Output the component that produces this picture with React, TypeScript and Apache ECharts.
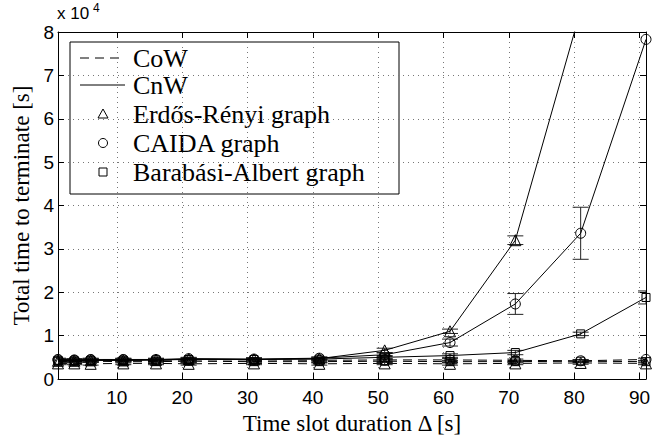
import React, { useEffect, useRef } from "react";
import * as echarts from "echarts";

const xValues = [1, 3.5, 6, 11, 16, 21, 31, 41, 51, 61, 71, 81, 91];
const xTickValues = [10, 20, 30, 40, 50, 60, 70, 80, 90];

// CoW (dashed) values, x 10^4 s
const erCow = [0.36, 0.36, 0.35, 0.36, 0.36, 0.35, 0.36, 0.35, 0.36, 0.35, 0.36, 0.37, 0.36];
const caidaCow = [0.44, 0.43, 0.44, 0.44, 0.43, 0.44, 0.44, 0.43, 0.44, 0.44, 0.43, 0.42, 0.45];
const baCow = [0.40, 0.40, 0.41, 0.40, 0.40, 0.41, 0.40, 0.40, 0.41, 0.40, 0.40, 0.41, 0.40];

// CnW (solid) values, x 10^4 s
const erCnw = [0.42, 0.42, 0.43, 0.43, 0.44, 0.46, 0.45, 0.47, 0.66, 1.10, 3.20, 8.5, 14.5];
const caidaCnw = [0.45, 0.44, 0.45, 0.45, 0.45, 0.47, 0.46, 0.48, 0.56, 0.84, 1.73, 3.36, 7.83];
const baCnw = [0.43, 0.42, 0.43, 0.43, 0.44, 0.45, 0.45, 0.46, 0.50, 0.54, 0.61, 1.04, 1.88];

// error half-widths
const erCnwErr = [0.03, 0.03, 0.03, 0.03, 0.03, 0.03, 0.03, 0.03, 0.05, 0.05, 0.1, 0, 0];
const caidaCnwErr = [0.03, 0.03, 0.03, 0.03, 0.03, 0.03, 0.03, 0.03, 0.04, 0.08, 0.24, 0.6, 0];
const baCnwErr = [0.03, 0.03, 0.03, 0.03, 0.03, 0.03, 0.03, 0.03, 0.04, 0.04, 0.05, 0.04, 0.15];
const cowErr = [0.03, 0.03, 0.03, 0.03, 0.03, 0.03, 0.03, 0.03, 0.03, 0.03, 0.03, 0.03, 0.03];

const legendNames = ["CoW", "CnW", "Erdős-Rényi graph", "CAIDA graph", "Barabási-Albert graph"];

const SERIF = "Liberation Serif";
const SANS = "Liberation Sans";

function pairs(vals: number[]) {
  return xValues.map((x, i) => [x, vals[i]]);
}
function errData(vals: number[], errs: number[]) {
  return xValues
    .map((x, i) => [x, vals[i] - errs[i], vals[i] + errs[i]])
    .filter((d, i) => errs[i] > 0);
}

function lineSeries(name: string, vals: number[], symbol: string, size: number, dashed: boolean) {
  return {
    type: "line",
    name,
    data: pairs(vals),
    symbol,
    symbolSize: size,
    showAllSymbol: true,
    clip: true,
    lineStyle: { color: "#000", width: 1, type: dashed ? [9, 6] : "solid" },
    itemStyle: { color: "rgba(0,0,0,0)", borderColor: "#000", borderWidth: 1 },
    z: 3,
  };
}

function errSeries(vals: number[], errs: number[]) {
  return {
    type: "custom",
    data: errData(vals, errs),
    clip: true,
    z: 2,
    renderItem: (params: any, api: any) => {
      const x = api.value(0);
      const lo = api.coord([x, api.value(1)]);
      const hi = api.coord([x, api.value(2)]);
      const w = 8;
      const style = { stroke: "#222", lineWidth: 1 };
      return {
        type: "group",
        children: [
          { type: "line", shape: { x1: lo[0], y1: lo[1], x2: hi[0], y2: hi[1] }, style },
          { type: "line", shape: { x1: lo[0] - w, y1: lo[1], x2: lo[0] + w, y2: lo[1] }, style },
          { type: "line", shape: { x1: hi[0] - w, y1: hi[1], x2: hi[0] + w, y2: hi[1] }, style },
        ],
      };
    },
  };
}

export default function App() {
  const ref = useRef<HTMLDivElement>(null);
  useEffect(() => {
    if (!ref.current) return;
    const chart = echarts.init(ref.current, null, { renderer: "svg" });
    const gridLine = { show: true, lineStyle: { color: "#777", width: 1, type: [1, 4] } };
    const tick = { show: true, inside: true, length: 6, lineStyle: { color: "#000" } };
    const axisLine = { show: true, onZero: false, lineStyle: { color: "#000", width: 1 } };

    const legendRows = [58, 85, 114, 143, 172];
    const lx = 70, ly = 42, lw = 329, lh = 152;
    const legendChildren: any[] = [
      { type: "rect", shape: { x: lx, y: ly, width: lw, height: lh }, style: { fill: "#fff", stroke: "#000", lineWidth: 1 } },
      { type: "line", shape: { x1: 80, y1: legendRows[0], x2: 125, y2: legendRows[0] }, style: { stroke: "#000", lineWidth: 1, lineDash: [9, 6] } },
      { type: "line", shape: { x1: 80, y1: legendRows[1], x2: 125, y2: legendRows[1] }, style: { stroke: "#000", lineWidth: 1 } },
      { type: "polygon", shape: { points: [[103, legendRows[2] - 5], [98, legendRows[2] + 4], [108, legendRows[2] + 4]] }, style: { fill: "none", stroke: "#000", lineWidth: 1 } },
      { type: "circle", shape: { cx: 103, cy: legendRows[3], r: 4.5 }, style: { fill: "none", stroke: "#000", lineWidth: 1 } },
      { type: "rect", shape: { x: 99, y: legendRows[4] - 4, width: 8, height: 8 }, style: { fill: "none", stroke: "#000", lineWidth: 1 } },
    ];
    legendNames.forEach((n, i) => {
      legendChildren.push({
        type: "text",
        x: 133,
        y: legendRows[i],
        style: {
          text: n,
          fontFamily: SERIF,
          fontSize: 26,
          fill: "#000",
          verticalAlign: "middle",
          align: "left",
        },
      });
    });

    chart.setOption({
      animation: false,
      backgroundColor: "#fff",
      grid: { left: 58, top: 32, width: 588, height: 347, containLabel: false, outerBoundsMode: "none" },
      xAxis: [
        {
          type: "value",
          min: 1,
          max: 91,
          position: "bottom",
          axisLine,
          axisTick: { ...tick, customValues: xTickValues },
          axisLabel: { customValues: xTickValues, color: "#000", fontFamily: SANS, fontSize: 19, margin: 9 },
          splitLine: gridLine,
          name: "Time slot duration Δ [s]",
          nameLocation: "middle",
          nameGap: 32,
          nameTextStyle: { fontFamily: SERIF, fontSize: 23, color: "#000" },
        },
        {
          type: "value",
          min: 1,
          max: 91,
          position: "top",
          axisLine,
          axisTick: { ...tick, customValues: xTickValues },
          axisLabel: { show: false, customValues: xTickValues },
          splitLine: { show: false },
        },
      ],
      yAxis: [
        {
          type: "value",
          min: 0,
          max: 8,
          interval: 1,
          position: "left",
          axisLine,
          axisTick: tick,
          axisLabel: { color: "#000", fontFamily: SANS, fontSize: 19, margin: 4 },
          splitLine: gridLine,
          name: "Total time to terminate [s]",
          nameLocation: "middle",
          nameGap: 20,
          nameTextStyle: { fontFamily: SERIF, fontSize: 23, color: "#000" },
        },
        {
          type: "value",
          min: 0,
          max: 8,
          interval: 1,
          position: "right",
          axisLine,
          axisTick: tick,
          axisLabel: { show: false },
          splitLine: { show: false },
        },
      ],
      series: [
        lineSeries("ER CoW", erCow, "triangle", 11, true),
        lineSeries("CAIDA CoW", caidaCow, "circle", 10, true),
        lineSeries("BA CoW", baCow, "rect", 8, true),
        lineSeries("ER CnW", erCnw, "triangle", 11, false),
        lineSeries("CAIDA CnW", caidaCnw, "circle", 10, false),
        lineSeries("BA CnW", baCnw, "rect", 8, false),
        errSeries(erCow, cowErr),
        errSeries(caidaCow, cowErr),
        errSeries(baCow, cowErr),
        errSeries(erCnw, erCnwErr),
        errSeries(caidaCnw, caidaCnwErr),
        errSeries(baCnw, baCnwErr),
      ],
      graphic: [
        {
          type: "text",
          x: 57,
          y: 5,
          style: { text: "x 10", fontFamily: SANS, fontSize: 17, fill: "#000" },
        },
        {
          type: "text",
          x: 93,
          y: 2,
          style: { text: "4", fontFamily: SANS, fontSize: 12, fill: "#000" },
        },
        { type: "group", z: 100, children: legendChildren },
      ],
    });
    return () => chart.dispose();
  }, []);
  return <div ref={ref} style={{ position: "absolute", left: 0, top: 0, width: 672, height: 435 }} />;
}
